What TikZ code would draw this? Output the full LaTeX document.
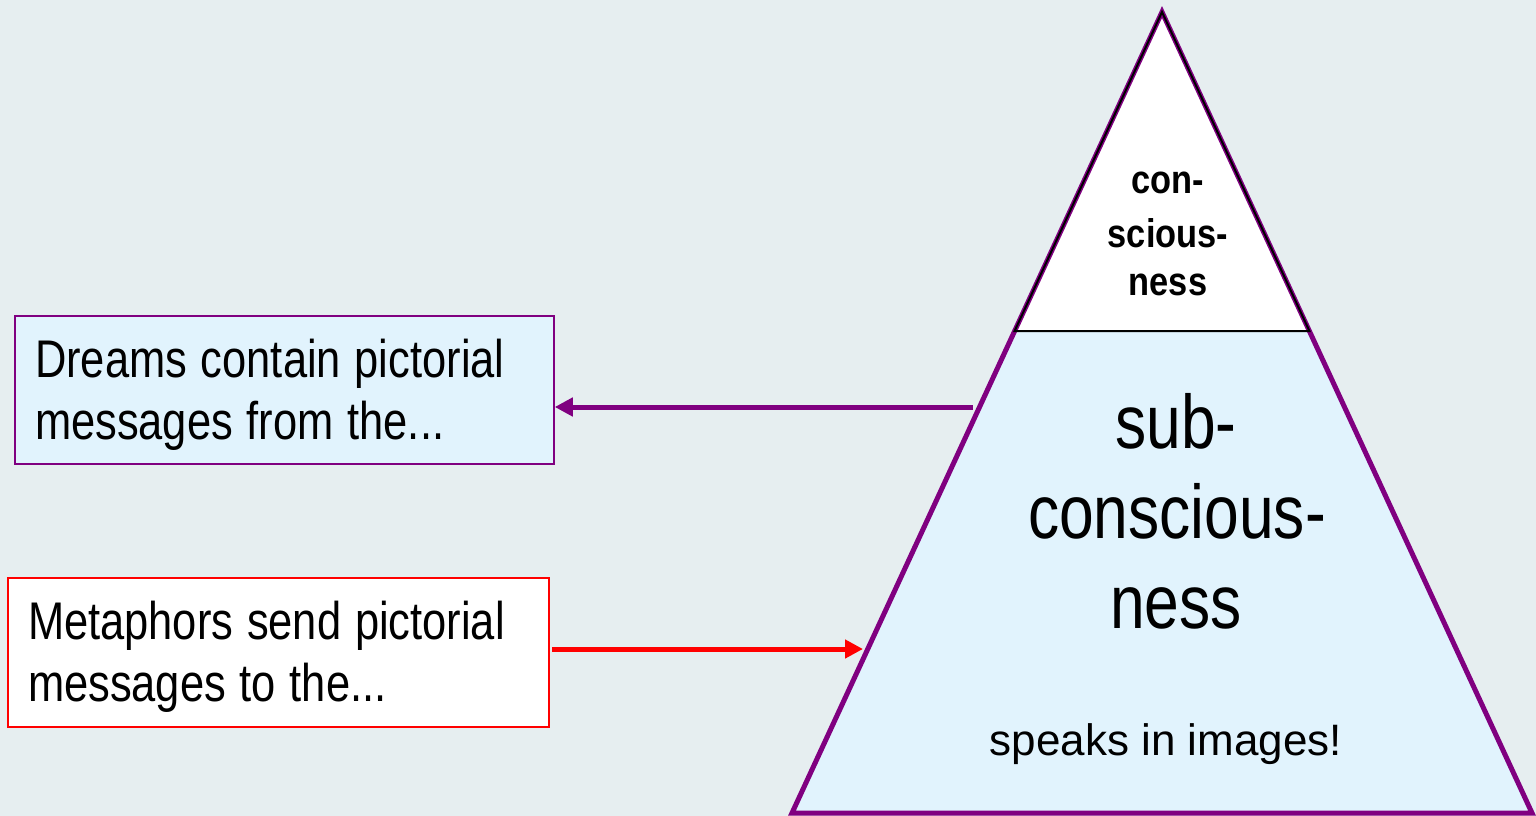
\documentclass[tikz,border=0pt]{standalone}
\usepackage{fontspec}
\setmainfont{Liberation Sans}
\newfontfamily\narrowfont[FakeStretch=0.82]{Liberation Sans}
\newfontfamily\narrowbold[FakeStretch=0.86]{Liberation Sans Bold}
\newcommand\tightsp{\spaceskip=0.26em plus 0.05em minus 0.02em\relax}
\usetikzlibrary{arrows.meta}
\definecolor{bgcol}{RGB}{230,238,240}
\definecolor{paleblue}{RGB}{225,243,253}
\definecolor{mypurple}{RGB}{128,0,128}
\definecolor{myred}{RGB}{255,0,0}
\tikzset{
  msgbox/.style={minimum width=#1, text width=#1-40pt, inner xsep=20pt, inner ysep=0pt, align=left,
    font=\narrowfont\fontsize{53}{62}\selectfont},
  toptext/.style={anchor=base, inner sep=0pt, font=\narrowbold\fontsize{40}{51}\selectfont},
  bigtext/.style={anchor=base, inner sep=0pt, font=\narrowfont\fontsize{76}{90}\selectfont},
  smalltext/.style={anchor=base, inner sep=0pt, font=\fontsize{44}{52}\selectfont},
  conn/.style={line width=5pt, -{Triangle[length=18pt,width=18pt]}}
}
\begin{document}
\begin{tikzpicture}[x=1pt,y=-1pt]
\fill[bgcol] (0,0) rectangle (1536,816);
\useasboundingbox (0,0) rectangle (1536,816);
% triangle
\coordinate (apex) at (1162,12);
\coordinate (bl) at (792,813);
\coordinate (br) at (1532,813);
\coordinate (dl) at (1014.6,331);
\coordinate (dr) at (1309.4,331);
\fill[paleblue] (dl) -- (dr) -- (br) -- (bl) -- cycle;
\fill[white] (apex) -- (dl) -- (dr) -- cycle;
\draw[mypurple, line width=5pt, line join=miter] (apex) -- (bl) -- (br) -- cycle;
\draw[black, line width=2pt, line join=miter] (dl) -- (apex) -- (dr) -- cycle;
% texts in triangle
\node[toptext] (t1) at (1168,193) {con-};
\node[toptext] (t2) at (1168,247) {scious-};
\node[toptext] (t3) at (1168,295) {ness};
\node[bigtext] (b1) at (1176,448) {sub-};
\node[bigtext] (b2) at (1177,538) {conscious-};
\node[bigtext] (b3) at (1176,628) {ness};
\node[smalltext] (sp) at (1166,755) {speaks in images!};
% boxes
\node[msgbox=539pt, minimum height=148pt, draw=mypurple, line width=1.5pt, fill=paleblue] (dreams) at (284.5,390)
  {\tightsp\rule{0pt}{47pt}Dreams contain pictorial\\messages from the...};
\node[msgbox=541pt, minimum height=149pt, draw=myred, line width=2pt, fill=white] (meta) at (278.5,652.5)
  {\tightsp\rule{0pt}{47pt}Metaphors send pictorial\\messages to the...};
% connectors
\coordinate (s1) at (973,407);
\coordinate (e2) at (863,649);
\draw[conn, mypurple] (s1) -- (s1 -| dreams.east);
\draw[conn, myred] ([xshift=2pt]meta.east |- e2) -- (e2);
\end{tikzpicture}
\end{document}
